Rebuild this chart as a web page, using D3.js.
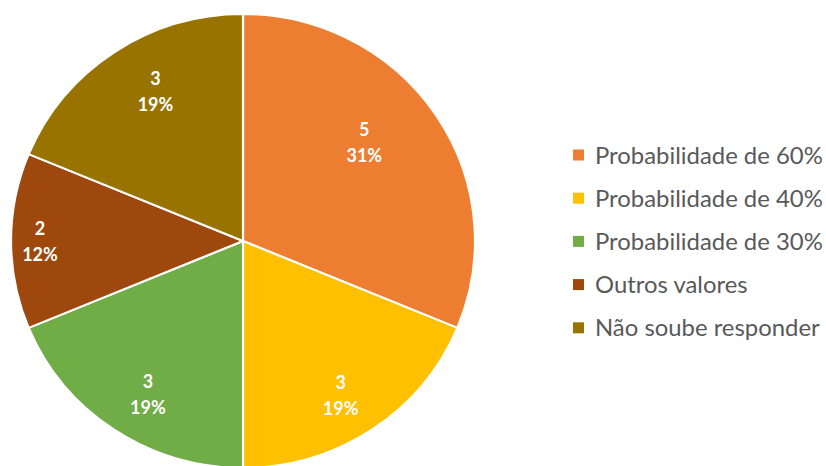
<!DOCTYPE html>
<html>
<head>
<meta charset="utf-8">
<script src="https://cdn.jsdelivr.net/npm/d3@7"></script>
<style>
  html, body { margin: 0; padding: 0; background: #ffffff; }
  svg { display: block; }
</style>
</head>
<body>
<svg id="chart" width="826" height="466"></svg>
<script>
// Survey answers: count per response category
const categories = [
  "Probabilidade de 60%",
  "Probabilidade de 40%",
  "Probabilidade de 30%",
  "Outros valores",
  "Não soube responder"
];
const counts = [5, 3, 3, 2, 3];
const percentLabels = ["31%", "19%", "19%", "12%", "19%"];
const colors = ["#ED7D31", "#FFC000", "#70AD47", "#9E480E", "#997300"];

const svg = d3.select("#chart");
const W = 826, H = 466;

// Pie geometry
const cx = 243, cy = 241, rx = 232, ry = 227;

const pie = d3.pie().sort(null).value(d => d.value).startAngle(0);
const arcs = pie(categories.map((c, i) => ({ name: c, value: counts[i], pct: percentLabels[i], color: colors[i] })));

const arc = d3.arc().innerRadius(0).outerRadius(rx);

const pieG = svg.append("g")
  .attr("transform", `translate(${cx},${cy}) scale(1,${ry / rx})`);

pieG.selectAll("path.slice")
  .data(arcs)
  .enter().append("path")
  .attr("class", "slice")
  .attr("d", arc)
  .attr("fill", d => d.data.color)
  .attr("stroke", "#ffffff")
  .attr("stroke-width", 2.2)
  .attr("stroke-linejoin", "round");

// Data labels: radius (fraction of outer radius) and angle nudge (degrees) per slice
const labelPlacement = [
  { r: 0.68, da: -6 },
  { r: 0.80, da: 2 },
  { r: 0.79, da: -2.5 },
  { r: 0.875, da: 0 },
  { r: 0.76, da: 4 }
];

const labelFont = "Lato, 'Open Sans', sans-serif";
const labelsG = svg.append("g");
arcs.forEach((d, i) => {
  const mid = (d.startAngle + d.endAngle) / 2 + labelPlacement[i].da * Math.PI / 180;
  const rr = rx * labelPlacement[i].r;
  const x = cx + rr * Math.sin(mid);
  const y = cy - rr * Math.cos(mid) * (ry / rx);
  const t = labelsG.append("text")
    .attr("x", x)
    .attr("y", y)
    .attr("text-anchor", "middle")
    .attr("fill", "#ffffff")
    .attr("font-family", labelFont)
    .attr("font-weight", "bold")
    .attr("font-size", 18);
  t.append("tspan").attr("x", x).attr("dy", -6).text(d.data.value);
  t.append("tspan").attr("x", x).attr("dy", 26).text(d.data.pct);
});

// Legend
const legendFont = "Lato, 'Open Sans', sans-serif";
const legendG = svg.append("g");
const legendX = 573, legendY0 = 155, legendStep = 43.2, sw = 11;

// size legend text so the longest entry spans the same width as the frame allows
const probe = legendG.append("text")
  .attr("font-family", legendFont).attr("font-size", 20)
  .text(categories[0]);
const probeW = probe.node().getComputedTextLength();
probe.remove();
const legendSize = 20 * 228 / probeW;

categories.forEach((c, i) => {
  const y = legendY0 + i * legendStep;
  legendG.append("rect")
    .attr("x", legendX)
    .attr("y", y - sw / 2)
    .attr("width", sw)
    .attr("height", sw)
    .attr("fill", colors[i]);
  legendG.append("text")
    .attr("x", 595)
    .attr("y", y)
    .attr("dy", "0.36em")
    .attr("fill", "#595959")
    .attr("font-family", legendFont)
    .attr("font-size", legendSize)
    .text(c);
});
</script>
</body>
</html>
